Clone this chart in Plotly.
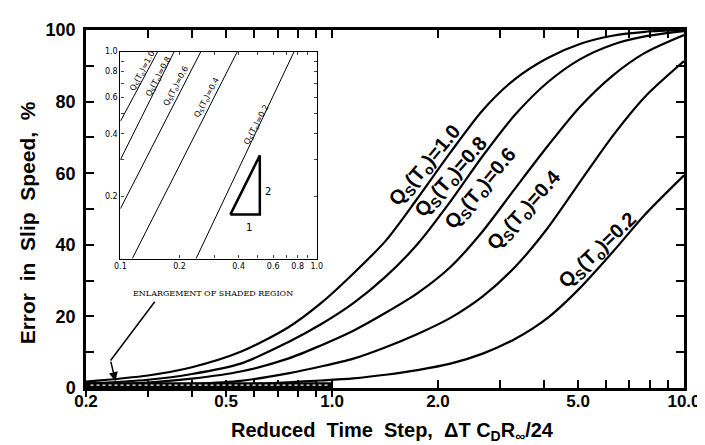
import plotly.graph_objects as go
import math

# ---------------- data ----------------
step = [0.2, 0.3, 0.4, 0.55, 0.75, 0.93, 1.15, 1.42, 1.75, 2.17, 2.68, 3.31, 4.1, 5.06, 6.26, 7.74, 10.0]
err_q10 = [1.8, 3.5, 5.8, 10.1, 16.9, 23.7, 32.0, 41.1, 53.0, 65.8, 77.6, 86.3, 92.2, 96.1, 98.4, 99.5, 100.0]
err_q08 = [1.2, 2.3, 3.9, 6.8, 12.8, 17.8, 23.7, 31.1, 40.2, 52.1, 64.8, 76.3, 85.4, 91.8, 95.9, 98.2, 99.7]
err_q06 = [0.7, 1.5, 2.6, 4.6, 8.2, 11.9, 16.0, 21.0, 26.5, 33.8, 43.8, 55.7, 67.6, 78.5, 87.2, 93.6, 98.6]
err_q04 = [0.3, 0.65, 1.1, 2.0, 4.1, 6.0, 8.2, 11.4, 15.1, 19.6, 25.6, 33.8, 44.7, 57.5, 70.3, 81.3, 91.3]
err_q02 = [0.07, 0.2, 0.4, 0.9, 1.6, 2.1, 2.7, 3.7, 5.0, 6.8, 9.6, 13.7, 19.6, 27.9, 37.9, 48.4, 59.4]
curve_labels = ["1.0", "0.8", "0.6", "0.4", "0.2"]

x_tickvals = [0.2, 0.3, 0.4, 0.5, 0.6, 0.7, 0.8, 0.9, 1, 2, 3, 4, 5, 6, 7, 8, 9, 10]
x_ticktext = ["0.2", "", "", "0.5", "", "", "", "", "1.0", "2.0", "", "", "5.0", "", "", "", "", "10.0"]
y_tickvals = [0, 10, 20, 30, 40, 50, 60, 70, 80, 90, 100]
y_ticktext = ["0", "", "20", "", "40", "", "60", "", "80", "", "100"]

# shaded region (enlarged in the inset)
shade_x = [0.2, 1.0]
shade_top = 1.6

# inset (log-log enlargement)
inset_x_q10 = [0.1, 0.155]; inset_y_q10 = [0.46, 1.0]
inset_x_q08 = [0.1, 0.188]; inset_y_q08 = [0.30, 1.0]
inset_x_q06 = [0.1, 0.257]; inset_y_q06 = [0.174, 1.0]
inset_x_q04 = [0.115, 0.394]; inset_y_q04 = [0.1, 1.0]
inset_x_q02 = [0.243, 0.767]; inset_y_q02 = [0.1, 1.0]
tri_x = [0.363, 0.513, 0.513, 0.363]
tri_y = [0.163, 0.163, 0.315, 0.163]
inset_tickvals = [0.1, 0.2, 0.3, 0.4, 0.5, 0.6, 0.7, 0.8, 0.9, 1.0]
inset_xticktext = ["0.1", "0.2", "", "0.4", "", "0.6", "", "0.8", "", "1.0"]
inset_yticktext = ["", "0.2", "", "0.4", "", "0.6", "", "0.8", "", "1.0"]

# ---------------- layout geometry ----------------
W, H = 705, 445
L, R, T, B = 78, 687, 15, 380

def px(x):
    return (x - L) / (R - L)

def py(y):
    return (B - y) / (B - T)

FONT = "Liberation Sans"
NB = "\u00a0"
fig = go.Figure()

for yv in [err_q10, err_q08, err_q06, err_q04, err_q02]:
    fig.add_trace(go.Scatter(x=step, y=yv, mode="lines",
                             line=dict(color="black", width=2.2, shape="spline", smoothing=0.8),
                             hoverinfo="skip", showlegend=False))

# shaded band
fig.add_trace(go.Scatter(x=[shade_x[0], shade_x[1], shade_x[1], shade_x[0], shade_x[0]],
                         y=[0, 0, shade_top, shade_top, 0], mode="lines", fill="toself",
                         fillcolor="black", line=dict(width=0, color="black"),
                         hoverinfo="skip", showlegend=False))
fig.add_trace(go.Scatter(x=[shade_x[0] * 1.03, shade_x[1] * 0.98], y=[shade_top / 2] * 2, mode="lines",
                         line=dict(color="white", width=1.2, dash="dot"),
                         hoverinfo="skip", showlegend=False))
# invisible trace for the outward-tick overlay axis
fig.add_trace(go.Scatter(x=[1], y=[0], mode="markers", marker=dict(opacity=0),
                         xaxis="x2", yaxis="y", hoverinfo="skip", showlegend=False))

# inset traces
for xs, ys in [(inset_x_q10, inset_y_q10), (inset_x_q08, inset_y_q08), (inset_x_q06, inset_y_q06),
               (inset_x_q04, inset_y_q04), (inset_x_q02, inset_y_q02)]:
    fig.add_trace(go.Scatter(x=xs, y=ys, mode="lines", line=dict(color="black", width=1),
                             xaxis="x3", yaxis="y3", hoverinfo="skip", showlegend=False))
fig.add_trace(go.Scatter(x=tri_x, y=tri_y, mode="lines", line=dict(color="black", width=2.5),
                         xaxis="x3", yaxis="y3", hoverinfo="skip", showlegend=False))

axis_common = dict(showline=True, linecolor="black", linewidth=2.5, mirror="ticks",
                   ticks="inside", ticklen=8, tickwidth=2, tickcolor="black",
                   showgrid=False, zeroline=False, layer="below traces", tickangle=0)

inset_common = dict(type="log", range=[-1, 0], tickvals=inset_tickvals, ticks="inside", ticklen=3,
                    tickwidth=1, mirror="ticks", showline=True, linecolor="black", linewidth=1.3,
                    showgrid=False, zeroline=False, tickangle=0,
                    tickfont=dict(family="DejaVu Sans", size=8, color="black"))

fig.update_layout(
    width=W, height=H,
    margin=dict(l=L, r=W - R, t=T, b=H - B),
    paper_bgcolor="white", plot_bgcolor="white",
    showlegend=False,
    xaxis=dict(type="log", range=[math.log10(0.2), 1], tickvals=x_tickvals, ticktext=x_ticktext,
               domain=[0, 1], anchor="y", ticklabelstandoff=-4,
               tickfont=dict(family=FONT, size=17, color="black", weight="bold"), **axis_common),
    yaxis=dict(range=[0, 100], tickvals=y_tickvals, ticktext=y_ticktext, domain=[0, 1],
               anchor="x", ticklabelstandoff=4,
               tickfont=dict(family=FONT, size=18, color="black", weight="bold"), **axis_common),
    xaxis2=dict(type="log", range=[math.log10(0.2), 1], overlaying="x", side="bottom", anchor="y",
                tickvals=[0.2, 0.3, 0.4, 0.5, 0.6, 0.7, 0.8, 0.9, 1.0], ticks="outside", ticklen=8,
                tickwidth=2, tickcolor="black", showticklabels=False, showline=False,
                showgrid=False, zeroline=False),
    xaxis3=dict(domain=[px(113), px(313)], anchor="y3", ticktext=inset_xticktext, **inset_common),
    yaxis3=dict(domain=[py(248), py(37)], anchor="x3", ticktext=inset_yticktext, **inset_common),
)

ann = []

def label(xp, yp, text, size, family=FONT, angle=0, bold=False):
    f = dict(family=family, size=size, color="black")
    if bold:
        f["weight"] = "bold"
    ann.append(dict(x=px(xp), y=py(yp), xref="paper", yref="paper", showarrow=False,
                    xanchor="center", yanchor="middle", textangle=angle, text=text, font=f))

# axis titles
label(390, 424, f"Reduced{NB}{NB}Time{NB}{NB}Step,{NB}{NB}ΔT{NB}C<sub>D</sub>R<sub>∞</sub>/24", 20, bold=True)
label(18, 212, f"Error{NB}{NB}in{NB}{NB}Slip{NB}{NB}Speed,{NB}{NB}%", 21, angle=-90, bold=True)

# curve labels
main_lbl_pos = [(424, 153, -50), (450, 165, -49), (481, 177, -50), (525, 199, -48), (600, 240, -44)]
for lab, (lx, ly, ang) in zip(curve_labels, main_lbl_pos):
    label(lx, ly, f"Q<sub>S</sub>(T<sub>o</sub>)={lab}", 20, angle=ang, bold=True)

# inset labels
inset_lbl_pos = [(136, 57), (152, 63), (170, 72), (201, 84), (252, 112)]
for lab, (lx, ly) in zip(curve_labels, inset_lbl_pos):
    label(lx, ly, f"Q<sub>S</sub>(T<sub>o</sub>)={lab}", 8, family="DejaVu Sans", angle=-62)
label(244, 216, "1", 10, family="DejaVu Sans")
label(263, 180, "2", 10, family="DejaVu Sans")
label(207, 284, "ENLARGEMENT OF SHADED REGION", 8, family="DejaVu Serif")

# arrow to shaded region
ann.append(dict(x=px(108), y=py(373), xref="paper", yref="paper", text="", showarrow=True,
                ax=-5, ay=-21, arrowhead=2, arrowsize=1.2, arrowwidth=1.5, arrowcolor="black"))
fig.update_layout(annotations=ann)

fig.add_shape(type="line", xref="paper", yref="paper", x0=px(148), y0=py(292), x1=px(103), y1=py(352),
              line=dict(color="black", width=1.5))

fig.write_html("out.html")
